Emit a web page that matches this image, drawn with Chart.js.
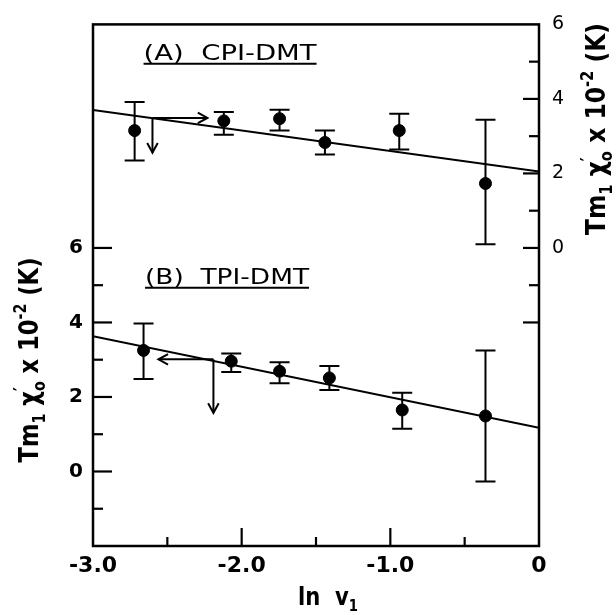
<!DOCTYPE html>
<html>
<head>
<meta charset="utf-8">
<script src="https://cdn.jsdelivr.net/npm/chart.js@4.4.1/dist/chart.umd.min.js"></script>
<style>
  html, body { margin: 0; padding: 0; background: #fff; }
  #wrap { width: 616px; height: 615px; }
</style>
</head>
<body>
<div id="wrap"><canvas id="chart"></canvas></div>
<script>
// (A) CPI-DMT, read on the right axis
const lnV1A = [-2.72, -2.12, -1.745, -1.44, -0.94, -0.36];
const tmA   = [3.15, 3.41, 3.47, 2.83, 3.15, 1.73];
const tmAHi = [3.92, 3.65, 3.71, 3.15, 3.60, 3.44];
const tmALo = [2.35, 3.04, 3.15, 2.51, 2.64, 0.10];

// (B) TPI-DMT, read on the left axis
const lnV1B = [-2.66, -2.07, -1.745, -1.41, -0.92, -0.36];
const tmB   = [3.25, 2.96, 2.69, 2.51, 1.65, 1.49];
const tmBHi = [3.97, 3.17, 2.93, 2.83, 2.11, 3.25];
const tmBLo = [2.48, 2.67, 2.37, 2.19, 1.15, -0.27];

// fitted straight lines
const fitX = [-3, 0];
const fitA = [3.70, 2.05];
const fitB = [3.63, 1.17];

// arrows [x0, y0, x1, y1]
const arrowsA = [[-2.60, 3.49, -2.23, 3.49], [-2.60, 3.49, -2.60, 2.56]];
const arrowsB = [[-2.19, 3.01, -2.56, 3.01], [-2.19, 3.01, -2.19, 1.57]];

// ticks
const xTickLabels = { '-3': '-3.0', '-2': '-2.0', '-1': '-1.0', '0': '0' };
const xMajor = [-2, -1];
const xMinor = [-2.5, -1.5, -0.5];
const yLabels = [0, 2, 4, 6];
const yMajor = [0, 2, 4, 6];
const yMinor = [-1, 1, 3, 5];
const y2Labels = [0, 2, 4, 6];
const y2Major = [-2, 0, 2, 4];
const y2Minor = [-1, 1, 3, 5];

const pts = (xs, ys) => xs.map((x, i) => ({ x: x, y: ys[i] }));
const bars = (xs, lo, hi) => {
	const out = [];
	xs.forEach((x, i) => {
		out.push({ x: x, y: lo[i] }, { x: x, y: hi[i] }, { x: x, y: null });
	});
	return out;
};

const FONT = "'DejaVu Sans', sans-serif";

// text with sub/superscripts, squeezed to a given length
function drawRich(ctx, parts, size, len) {
	ctx.font = `bold ${size}px ${FONT}`;
	let w = 0;
	const small = `bold ${Math.round(size * 0.62)}px ${FONT}`;
	parts.forEach(p => {
		ctx.font = p.s ? small : `bold ${size}px ${FONT}`;
		p.w = p.noAdv ? 0 : ctx.measureText(p.t).width;
		w += p.w;
	});
	const k = len / w;
	ctx.scale(k, 1);
	let x = -w / 2;
	parts.forEach(p => {
		ctx.font = p.s ? small : `bold ${size}px ${FONT}`;
		const dy = p.s === 'sub' ? size * 0.25 : p.s === 'sup' ? -size * 0.45 : 0;
		ctx.fillText(p.t, x, dy);
		x += p.w;
	});
}

const yTitle = [
	{ t: 'T' }, { t: 'm' }, { t: '1', s: 'sub' }, { t: ' ' },
	{ t: 'χ' }, { t: '\u2032', s: 'sup', noAdv: true }, { t: 'o', s: 'sub' },
	{ t: ' x ' }, { t: '10' }, { t: '-2', s: 'sup' }, { t: ' (K)' },
];

const decor = {
	id: 'decor',
	afterDatasetsDraw(chart) {
		const { ctx, chartArea: a, scales } = chart;
		const x = scales.x, y = scales.y, y2 = scales.y2;
		ctx.save();
		ctx.strokeStyle = '#000';
		ctx.fillStyle = '#000';
		ctx.lineCap = 'butt';

		// frame
		ctx.lineWidth = 2.5;
		ctx.strokeRect(a.left, a.top, a.right - a.left, a.bottom - a.top);

		// inward ticks
		const mark = (x0, y0, x1, y1) => {
			ctx.beginPath(); ctx.moveTo(x0, y0); ctx.lineTo(x1, y1); ctx.stroke();
		};
		ctx.lineWidth = 2.2;
		xMajor.forEach(v => { const p = x.getPixelForValue(v); mark(p, a.bottom, p, a.bottom - 18); });
		xMinor.forEach(v => { const p = x.getPixelForValue(v); mark(p, a.bottom, p, a.bottom - 9); });
		yMajor.forEach(v => { const p = y.getPixelForValue(v); mark(a.left, p, a.left + 19, p); });
		yMinor.forEach(v => { const p = y.getPixelForValue(v); mark(a.left, p, a.left + 10, p); });
		y2Major.forEach(v => { const p = y2.getPixelForValue(v); mark(a.right, p, a.right - 16, p); });
		y2Minor.forEach(v => { const p = y2.getPixelForValue(v); mark(a.right, p, a.right - 10, p); });

		// arrows
		ctx.lineWidth = 2;
		const arrow = (ys, r) => {
			const x0 = x.getPixelForValue(r[0]), y0 = ys.getPixelForValue(r[1]);
			const x1 = x.getPixelForValue(r[2]), y1 = ys.getPixelForValue(r[3]);
			mark(x0, y0, x1, y1);
			const ang = Math.atan2(y1 - y0, x1 - x0);
			const h = 11, s = 0.5;
			ctx.beginPath();
			ctx.moveTo(x1 - h * Math.cos(ang - s), y1 - h * Math.sin(ang - s));
			ctx.lineTo(x1, y1);
			ctx.lineTo(x1 - h * Math.cos(ang + s), y1 - h * Math.sin(ang + s));
			ctx.stroke();
		};
		arrowsA.forEach(r => arrow(y2, r));
		arrowsB.forEach(r => arrow(y, r));

		// panel labels
		const label = (text, ys, lx, ly, width) => {
			const px = x.getPixelForValue(lx), py = ys.getPixelForValue(ly);
			ctx.save();
			ctx.font = `21px ${FONT}`;
			const w = ctx.measureText(text).width;
			ctx.translate(px, py);
			ctx.scale(width / w, 1);
			ctx.textAlign = 'left';
			ctx.textBaseline = 'alphabetic';
			ctx.fillText(text, 0, 0);
			ctx.restore();
			ctx.lineWidth = 2;
			mark(px, py + 4, px + width, py + 4);
		};
		label('(A)  CPI-DMT', y2, -2.66, 5.05, 173);
		label('(B)  TPI-DMT', y, -2.65, 5.04, 164);

		ctx.restore();
	},
	afterDraw(chart) {
		const { ctx, chartArea: a } = chart;
		ctx.save();
		ctx.fillStyle = '#000';
		ctx.textBaseline = 'alphabetic';
		ctx.textAlign = 'left';

		// left title
		ctx.save();
		ctx.translate(38, 360);
		ctx.rotate(-Math.PI / 2);
		drawRich(ctx, yTitle, 27, 205);
		ctx.restore();

		// right title
		ctx.save();
		ctx.translate(605, 129);
		ctx.rotate(-Math.PI / 2);
		drawRich(ctx, yTitle, 27, 212);
		ctx.restore();

		// x title
		ctx.save();
		ctx.translate(328, 605);
		drawRich(ctx, [{ t: 'ln  v' }, { t: '1', s: 'sub' }], 24, 60);
		ctx.restore();

		ctx.restore();
	},
};

const black = '#000';

new Chart(document.getElementById('chart'), {
	type: 'scatter',
	data: {
		datasets: [
			{
				label: 'CPI-DMT fit',
				data: pts(fitX, fitA),
				yAxisID: 'y2',
				showLine: true,
				borderColor: black,
				borderWidth: 2,
				pointRadius: 0,
			},
			{
				label: 'TPI-DMT fit',
				data: pts(fitX, fitB),
				yAxisID: 'y',
				showLine: true,
				borderColor: black,
				borderWidth: 2,
				pointRadius: 0,
			},
			{
				label: 'CPI-DMT error',
				data: bars(lnV1A, tmALo, tmAHi),
				yAxisID: 'y2',
				showLine: true,
				spanGaps: false,
				borderColor: black,
				borderWidth: 2,
				pointStyle: 'line',
				pointRadius: 10,
				pointBorderWidth: 2,
				pointBorderColor: black,
			},
			{
				label: 'TPI-DMT error',
				data: bars(lnV1B, tmBLo, tmBHi),
				yAxisID: 'y',
				showLine: true,
				spanGaps: false,
				borderColor: black,
				borderWidth: 2,
				pointStyle: 'line',
				pointRadius: 10,
				pointBorderWidth: 2,
				pointBorderColor: black,
			},
			{
				label: '(A) CPI-DMT',
				data: pts(lnV1A, tmA),
				yAxisID: 'y2',
				pointRadius: 6,
				backgroundColor: black,
				borderColor: black,
			},
			{
				label: '(B) TPI-DMT',
				data: pts(lnV1B, tmB),
				yAxisID: 'y',
				pointRadius: 6,
				backgroundColor: black,
				borderColor: black,
			},
		],
	},
	options: {
		responsive: true,
		maintainAspectRatio: false,
		animation: false,
		layout: { padding: { top: 23, left: 0, right: 0, bottom: 0 } },
		plugins: {
			legend: { display: false },
			tooltip: { enabled: false },
		},
		scales: {
			x: {
				type: 'linear',
				min: -3,
				max: 0,
				grid: { display: false, drawTicks: false },
				border: { display: false },
				afterFit(s) { s.height = 69; },
				ticks: {
					stepSize: 1,
					maxRotation: 0,
					padding: 7,
					color: black,
					font: { family: FONT, weight: 'bold', size: 22 },
					callback: v => xTickLabels[String(v)] ?? '',
				},
			},
			y: {
				position: 'left',
				min: -2,
				max: 12,
				grid: { display: false, drawTicks: false },
				border: { display: false },
				afterFit(s) { s.width = 93; },
				ticks: {
					stepSize: 2,
					padding: 10,
					color: black,
					font: { family: FONT, weight: 'bold', size: 20 },
					callback: v => yLabels.includes(v) ? String(v) : '',
				},
			},
			y2: {
				position: 'right',
				min: -8,
				max: 6,
				grid: { display: false, drawTicks: false },
				border: { display: false },
				afterFit(s) { s.width = 77; },
				ticks: {
					stepSize: 2,
					padding: 13,
					color: black,
					font: { family: FONT, size: 19 },
					callback: v => y2Labels.includes(v) ? String(v) : '',
				},
			},
		},
	},
	plugins: [decor],
});
</script>
</body>
</html>
